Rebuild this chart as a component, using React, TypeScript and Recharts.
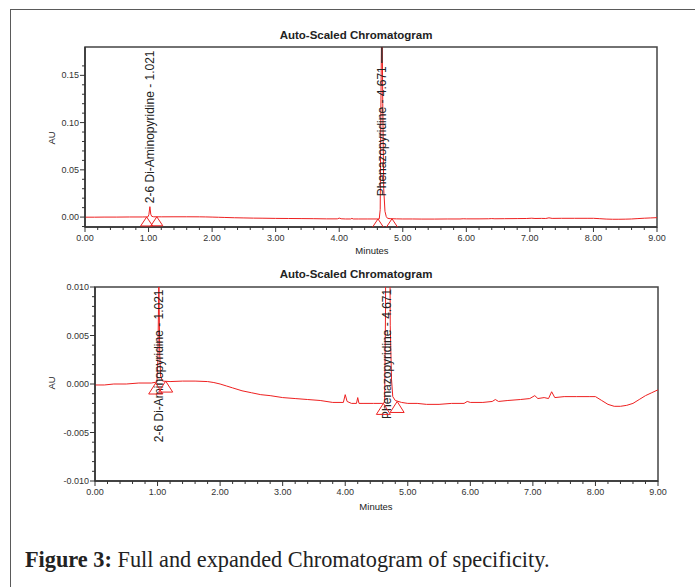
import { ComposedChart, Line, Scatter, XAxis, YAxis, ReferenceArea, ReferenceLine } from "recharts"

// retention time (min) and absorbance (AU) of the trace
const minutes = [
  0, 0.15, 0.3, 0.5, 0.7, 0.9, 0.99, 1.005, 1.021, 1.035, 1.05, 1.08, 1.2, 1.4, 1.6, 1.8, 1.9, 2.0, 2.1, 2.2,
  2.35, 2.5, 2.65, 2.8, 3.0, 3.2, 3.4, 3.6, 3.8, 3.97, 4.0, 4.03, 4.1, 4.18, 4.2, 4.22, 4.3, 4.45, 4.6, 4.63,
  4.645, 4.655, 4.671, 4.685, 4.7, 4.72, 4.74, 4.76, 4.8, 4.9, 5.0, 5.15, 5.3, 5.5, 5.7, 5.9, 5.95, 6.0, 6.2, 6.35,
  6.4, 6.45, 6.6, 6.8, 6.95, 7.03, 7.08, 7.18, 7.25, 7.3, 7.35, 7.5, 7.7, 7.9, 8.0, 8.1, 8.2, 8.3, 8.4, 8.5,
  8.6, 8.7, 8.8, 8.9, 9.0,
]
const absorbance = [
  -0.0001, -0.0001, 0.0, 0.0, 0.0001, 0.0001, 0.0002, 0.0025, 0.011, 0.003, 0.0008, 0.0003, 0.00025, 0.0003, 0.0003, 0.00025, 0.00015, 0.0, -0.0002, -0.0004,
  -0.0007, -0.0009, -0.0011, -0.0012, -0.0014, -0.0015, -0.0016, -0.0017, -0.0019, -0.0019, -0.0011, -0.0018, -0.002, -0.002, -0.0014, -0.002, -0.002, -0.002, -0.002, -0.0019,
  0.008, 0.11, 0.24, 0.12, 0.03, 0.006, 0.0005, -0.0013, -0.0017, -0.0019, -0.002, -0.002, -0.0021, -0.0021, -0.002, -0.002, -0.0018, -0.0019, -0.0019, -0.0018,
  -0.0016, -0.0018, -0.0017, -0.0016, -0.0015, -0.0012, -0.0015, -0.0014, -0.0015, -0.0008, -0.0014, -0.0013, -0.0013, -0.0013, -0.0013, -0.0017, -0.0021, -0.0023, -0.0023, -0.0022,
  -0.002, -0.0016, -0.0012, -0.0009, -0.0006,
]

// peak start / end markers
const markerMinutes = [0.97, 1.13, 4.61, 4.83]
const markerAU = [0.0001, 0.0003, -0.002, -0.0018]

// peak names
const peakNames = ["2-6 Di-Aminopyridine - 1.021", "Phenazopyridine - 4.671"]
const peakMinutes = [1.021, 4.671]
const fullLabelAU = [0.0147, 0.022]
const zoomLabelAU = [-0.006, -0.0036]

const xLabels = [0, 1, 2, 3, 4, 5, 6, 7, 8, 9]
const fullYLabels = [0, 0.05, 0.1, 0.15]
const zoomYLabels = [-0.01, -0.005, 0, 0.005, 0.01]

const trace = minutes.map((t, i) => ({ t, au: absorbance[i] }))
const markers = markerMinutes.map((t, i) => ({ t, au: markerAU[i] }))

const xTicks = Array.from({ length: 46 }, (_, i) => +(i * 0.2).toFixed(2))
const fullYTicks = Array.from({ length: 18 }, (_, i) => +(-0.01 + i * 0.01).toFixed(3))
const zoomYTicks = Array.from({ length: 21 }, (_, i) => +(-0.01 + i * 0.001).toFixed(4))

const RED = "#ee2020"
const AXIS = "#333"
const SANS = "Arial, 'Liberation Sans', sans-serif"

const isIn = (v: number, list: number[]) => list.some((m) => Math.abs(m - v) < 1e-9)

const XTick = ({ x, y, payload }: any) => {
  const major = isIn(payload.value, xLabels)
  return (
    <g>
      <line x1={x} y1={y} x2={x} y2={y + (major ? 5 : 3)} stroke={AXIS} />
      {major && (
        <text x={x} y={y + 14} textAnchor="middle" fontSize={9} fontFamily={SANS} fill="#333">
          {payload.value.toFixed(2)}
        </text>
      )}
    </g>
  )
}

const makeYTick = (labels: number[], digits: number) => ({ x, y, payload }: any) => {
  const major = isIn(payload.value, labels)
  return (
    <g>
      <line x1={x - (major ? 5 : 3)} y1={y} x2={x} y2={y} stroke={AXIS} />
      {major && (
        <text x={x - 6} y={y + 3} textAnchor="end" fontSize={9} fontFamily={SANS} fill="#333">
          {payload.value.toFixed(digits)}
        </text>
      )}
    </g>
  )
}

const triangle = (w: number, h: number) => (p: any) => (
  <polygon
    points={`${p.cx},${p.cy} ${p.cx - w / 2},${p.cy + h} ${p.cx + w / 2},${p.cy + h}`}
    fill="none"
    stroke={RED}
    strokeWidth={1}
  />
)

const peakText = (p: any) => (
  <text
    x={p.cx + 4}
    y={p.cy}
    transform={`rotate(-90 ${p.cx + 4} ${p.cy})`}
    fontSize={12}
    fontFamily={SANS}
    fill="#222"
  >
    {p.payload.text}
  </text>
)

function Chromatogram(props: {
  id: string
  height: number
  top: number
  margin: any
  yWidth: number
  yDomain: [number, number]
  yTicks: number[]
  yLabels: number[]
  digits: number
  labelAU: number[]
  tri: [number, number]
  title: string
  titleY: number
  minutesY: number
  minutesX: number
  auY: number
  showTopLine?: boolean
}) {
  const labels = peakNames.map((text, i) => ({ t: peakMinutes[i], au: props.labelAU[i], text }))
  return (
    <div style={{ position: "absolute", left: 0, top: props.top }}>
      <ComposedChart id={props.id} width={695} height={props.height} data={trace} margin={props.margin}>
        <XAxis
          dataKey="t"
          type="number"
          domain={[0, 9]}
          allowDataOverflow
          ticks={xTicks}
          interval={0}
          tick={<XTick />}
          tickLine={false}
          tickSize={0}
          tickMargin={0}
          height={30}
          axisLine={{ stroke: AXIS, strokeWidth: 1.5 }}
        />
        <YAxis
          type="number"
          domain={props.yDomain}
          allowDataOverflow
          ticks={props.yTicks}
          interval={0}
          tick={makeYTick(props.yLabels, props.digits)}
          tickLine={false}
          tickSize={0}
          tickMargin={0}
          width={props.yWidth}
          axisLine={{ stroke: AXIS, strokeWidth: 1.5 }}
        />
        <ReferenceArea
          x1={0}
          x2={9}
          y1={props.yDomain[0]}
          y2={props.yDomain[1]}
          fill="none"
          stroke="#444"
          strokeWidth={1.5}
        />
        <Scatter data={labels} dataKey="au" shape={peakText} isAnimationActive={false} />
        <Line
          dataKey="au"
          type="linear"
          stroke={RED}
          strokeWidth={1}
          dot={false}
          isAnimationActive={false}
        />
        {props.showTopLine && (
          <ReferenceLine
            segment={[
              { x: 4.671, y: props.yDomain[1] },
              { x: 4.671, y: 0.163 },
            ]}
            stroke="#333"
            strokeWidth={1.5}
          />
        )}
        <Scatter data={markers} dataKey="au" shape={triangle(props.tri[0], props.tri[1])} isAnimationActive={false} />
      </ComposedChart>
      <div
        style={{
          position: "absolute",
          left: 256,
          width: 200,
          top: props.titleY - props.top - 8,
          textAlign: "center",
          fontFamily: SANS,
          fontWeight: "bold",
          fontSize: 11.5,
          lineHeight: "16px",
          color: "#222",
        }}
      >
        {props.title}
      </div>
      <div
        style={{
          position: "absolute",
          left: props.minutesX - 40,
          width: 80,
          top: props.minutesY - props.top - 7,
          textAlign: "center",
          fontFamily: SANS,
          fontSize: 9.5,
          lineHeight: "14px",
          color: "#222",
        }}
      >
        Minutes
      </div>
      <div
        style={{
          position: "absolute",
          left: 52 - 20,
          width: 40,
          top: props.auY - props.top - 7,
          textAlign: "center",
          fontFamily: SANS,
          fontSize: 9.5,
          lineHeight: "14px",
          color: "#222",
          transform: "rotate(-90deg)",
        }}
      >
        AU
      </div>
    </div>
  )
}

export default function App() {
  return (
    <div style={{ position: "absolute", left: 0, top: 0, width: 695, height: 587, background: "#fff", overflow: "hidden" }}>
      <Chromatogram
        id="fullChromatogram"
        height={260}
        top={0}
        margin={{ top: 47, right: 38, left: 40, bottom: 3 }}
        yWidth={45}
        yDomain={[-0.0105, 0.18]}
        yTicks={fullYTicks}
        yLabels={fullYLabels}
        digits={2}
        labelAU={fullLabelAU}
        tri={[12, 9]}
        title="Auto-Scaled Chromatogram"
        titleY={35}
        minutesY={251}
        minutesX={372}
        auY={138}
        showTopLine
      />
      <Chromatogram
        id="zoomChromatogram"
        height={280}
        top={240}
        margin={{ top: 47, right: 37, left: 40, bottom: 9 }}
        yWidth={55}
        yDomain={[-0.01, 0.01]}
        yTicks={zoomYTicks}
        yLabels={zoomYLabels}
        digits={3}
        labelAU={zoomLabelAU}
        tri={[14, 11]}
        title="Auto-Scaled Chromatogram"
        titleY={274}
        minutesY={507}
        minutesX={376}
        auY={383}
      />
      <div
        style={{
          position: "absolute",
          left: 10,
          top: 9,
          width: 700,
          height: 600,
          borderTop: "1.5px solid #5a5a5a",
          borderLeft: "1.5px solid #5a5a5a",
        }}
      />
      <div
        style={{
          position: "absolute",
          left: 25,
          top: 545,
          fontFamily: "'Liberation Serif', 'Times New Roman', serif",
          fontSize: 22.3,
          lineHeight: "30px",
          color: "#222",
          whiteSpace: "nowrap",
        }}
      >
        <b>Figure 3:</b> Full and expanded Chromatogram of specificity.
      </div>
    </div>
  )
}
